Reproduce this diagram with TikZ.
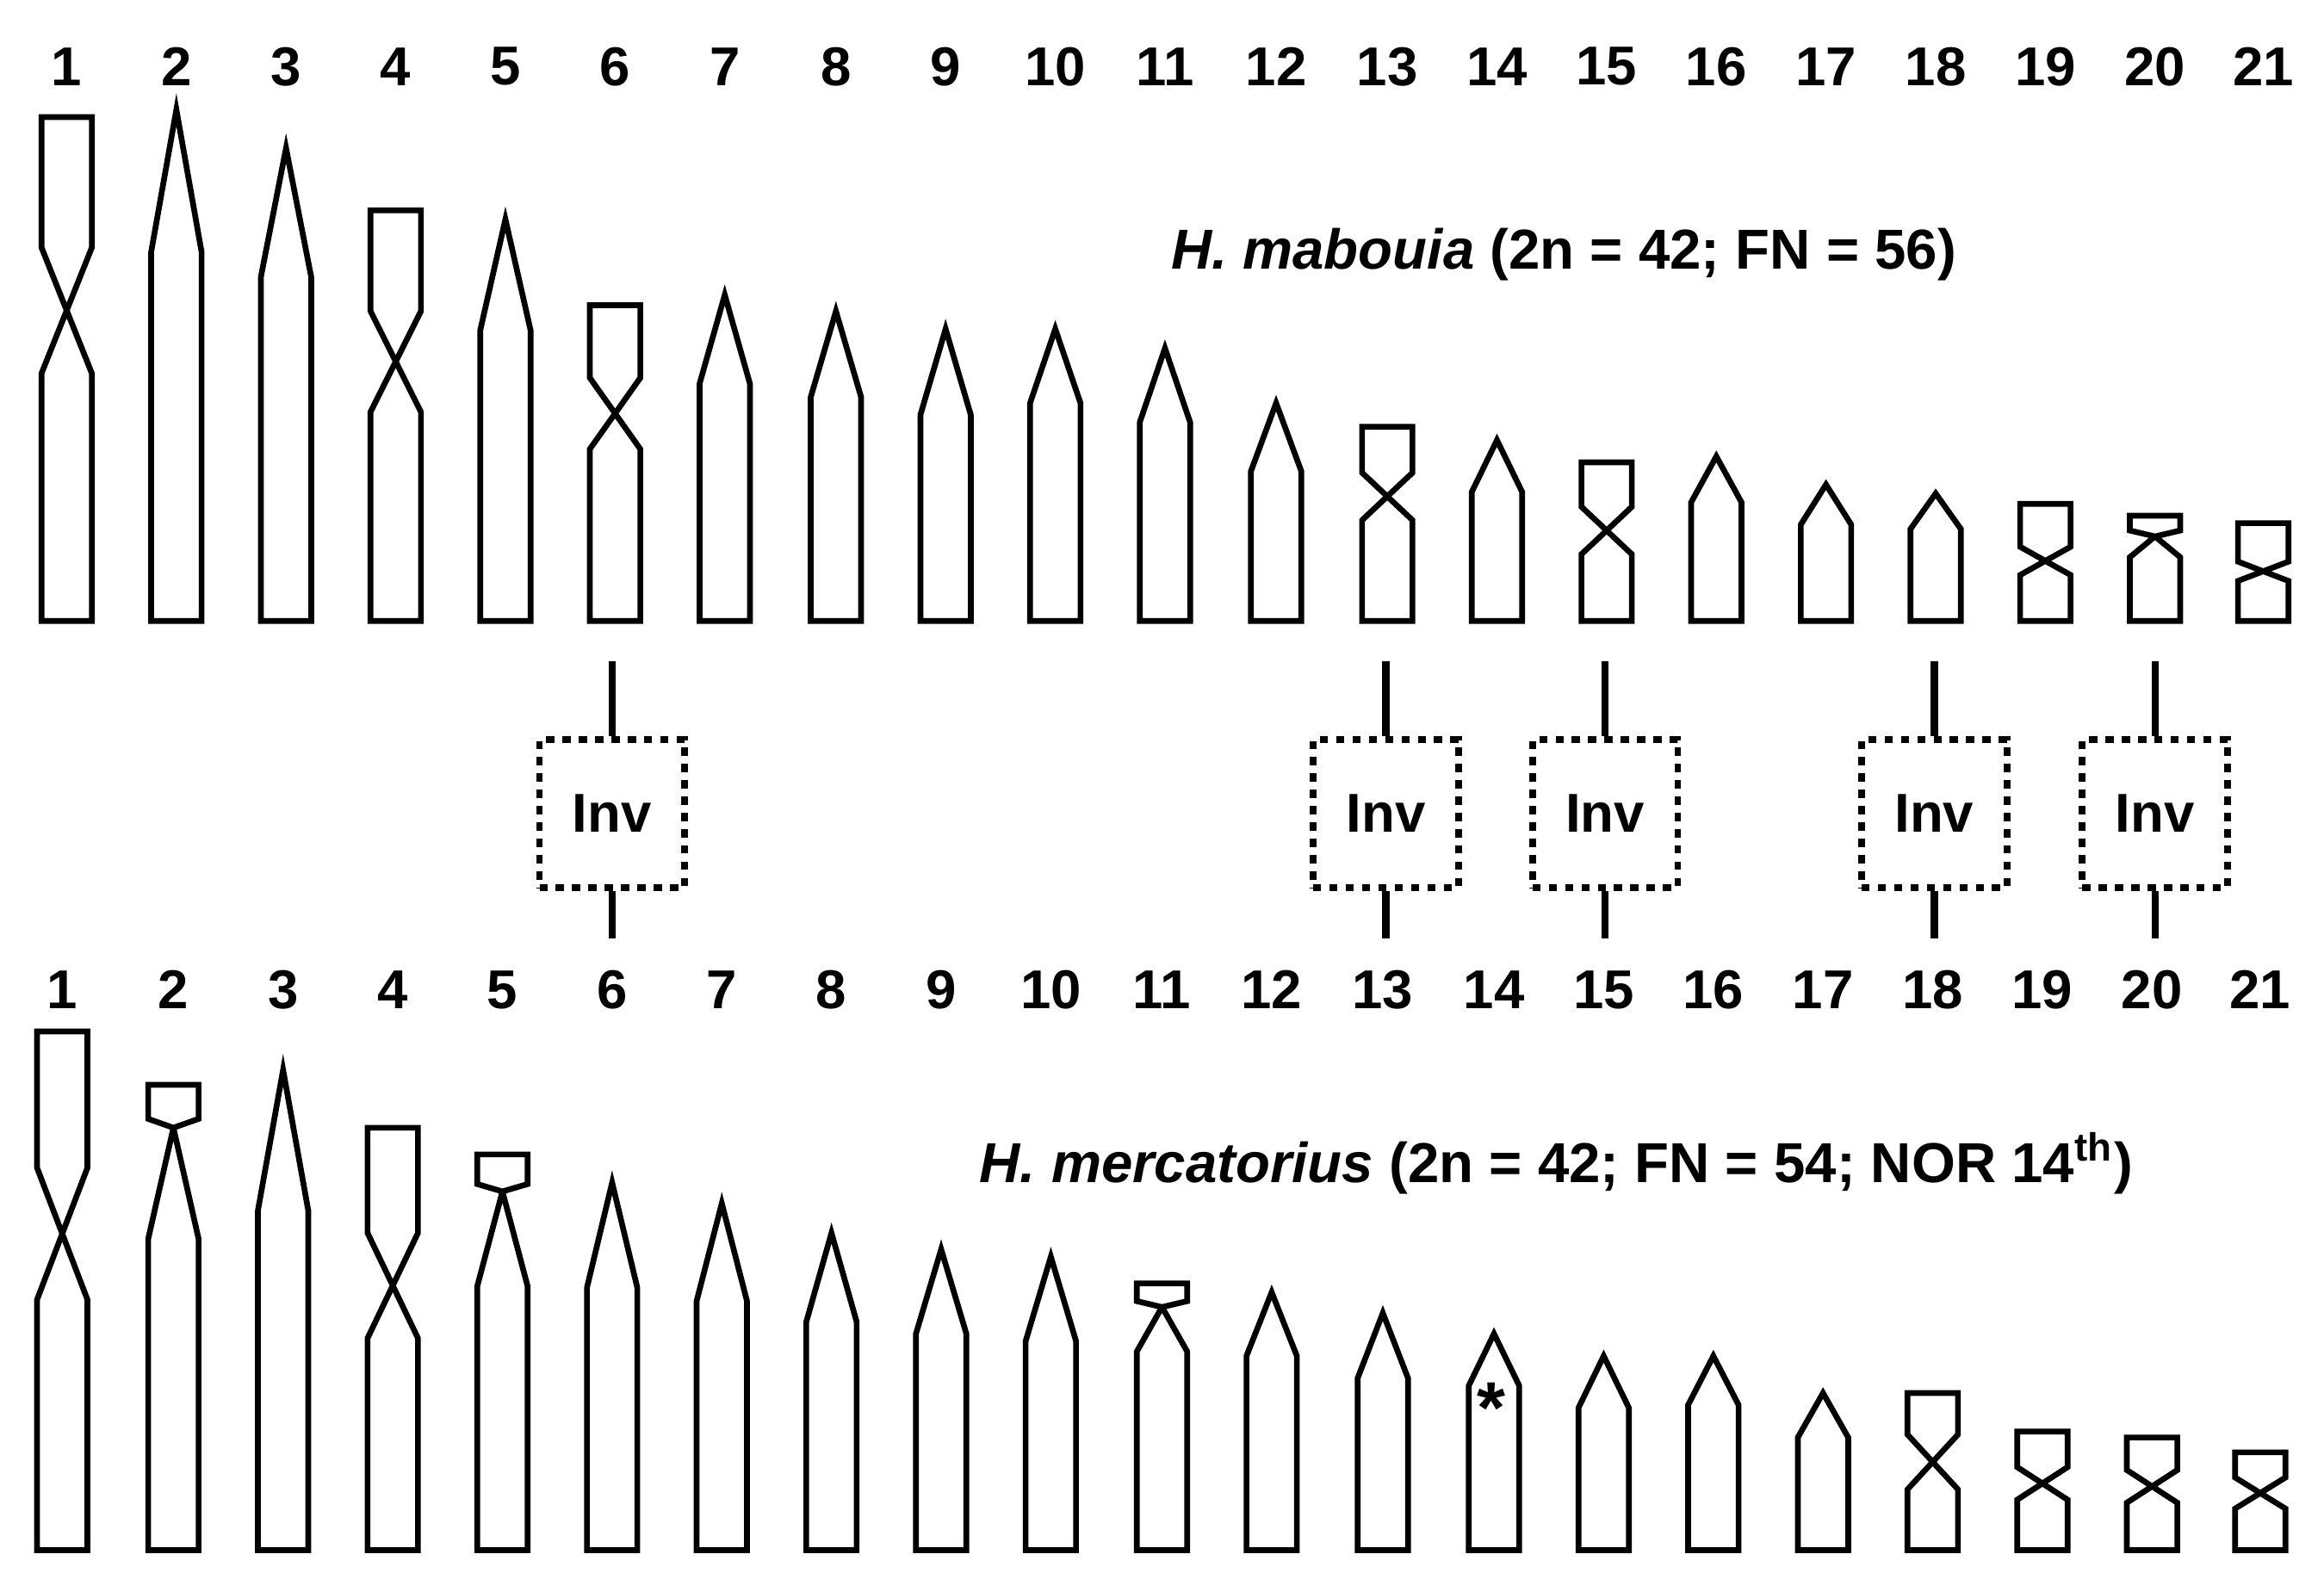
\documentclass[tikz,border=0pt]{standalone}
\usepackage{fontspec}
\setmainfont{Liberation Sans}
\newcommand\chrA[4]{\draw[chr] ({#1-17},#4)--({#1-17},#3)--(#1,#2)--({#1+17},#3)--({#1+17},#4)--cycle;}
\newcommand\chrX[6]{\draw[chr] ({#1-17},#6)--({#1-17},#5)--({#1+17},#3)--({#1+17},#2)--({#1-17},#2)--({#1-17},#3)--({#1+17},#5)--({#1+17},#6)--cycle;}
\newcommand\chrC[6]{\draw[chr] ({#1-17},#6)--({#1-17},#5)--(#1,#4)--({#1-17},#3)--({#1-17},#2)--({#1+17},#2)--({#1+17},#3)--(#1,#4)--({#1+17},#5)--({#1+17},#6)--cycle;}
\begin{document}
\begin{tikzpicture}[x=0.01cm,y=-0.01cm,
  chr/.style={line width=1.1pt,line join=miter},
  num/.style={font=\bfseries\fontsize{10.5}{12}\selectfont},
  ttl/.style={font=\bfseries\fontsize{10.8}{13}\selectfont},
  invbox/.style={draw,line width=1.3pt,dash pattern=on 0.055cm off 0.055cm,minimum width=0.98cm,minimum height=1.0cm,inner sep=0pt,font=\bfseries\fontsize{10.5}{12}\selectfont},
  link/.style={line width=1.4pt}]
\useasboundingbox (0,0) rectangle (1568,1065);
% top numbers
\foreach \n/\x in {1/45,2/119,3/193,4/267,5/341,6/415,7/489,8/564,9/638,10/712,11/786,12/861,13/936,14/1010,15/1084,16/1158,17/1232,18/1306,19/1380,20/1454,21/1527}
  \node[num] (t\n) at (\x,45) {\n};
\foreach \n/\x in {1/42,2/117,3/191,4/265,5/339,6/413,7/487,8/561,9/635,10/709,11/784,12/858,13/933,14/1008,15/1082,16/1156,17/1230,18/1304,19/1378,20/1452,21/1525}
  \node[num] (b\n) at (\x,668) {\n};
% top row
\chrX{45}{79}{167}{196}{252}{419}
\chrA{119}{74}{170}{419}
\chrA{193}{100}{187}{419}
\chrX{267}{142}{210}{231}{278}{419}
\chrA{341}{148}{223}{419}
\chrX{415}{206}{255}{266}{303}{419}
\chrA{489}{199}{259}{419}
\chrA{564}{210}{268}{419}
\chrA{638}{222}{280}{419}
\chrA{712}{222}{272}{419}
\chrA{786}{235}{285}{419}
\chrA{861}{272}{318}{419}
\chrX{936}{288}{319}{325}{351}{419}
\chrA{1010}{297}{332}{419}
\chrX{1084}{312}{342}{355}{374}{419}
\chrA{1158}{308}{339}{419}
\chrA{1232}{327}{354}{419}
\chrA{1306}{333}{357}{419}
\chrX{1380}{340}{369}{379}{388}{419}
\chrC{1454}{348}{358}{362}{376}{419}
\chrX{1527}{353}{379}{385}{392}{419}
\node[ttl] (sp1) at (1055,172) {\itshape H. mabouia\upshape\ (2n = 42; FN = 56)};
% bottom row
\chrX{42}{696}{788}{818}{877}{1046}
\chrC{117}{732}{755}{761}{836}{1046}
\chrA{191}{722}{817}{1046}
\chrX{265}{761}{832}{854}{903}{1046}
\chrC{339}{779}{799}{804}{868}{1046}
\chrA{413}{798}{869}{1046}
\chrA{487}{812}{878}{1046}
\chrA{561}{832}{892}{1046}
\chrA{635}{843}{900}{1046}
\chrA{709}{848}{905}{1046}
\chrC{784}{866}{878}{882}{912}{1046}
\chrA{858}{872}{915}{1046}
\chrA{933}{886}{930}{1046}
\chrA{1008}{900}{935}{1046}
\chrA{1082}{915}{950}{1046}
\chrA{1156}{915}{948}{1046}
\chrA{1230}{940}{970}{1046}
\chrX{1304}{940}{968}{985}{1005}{1046}
\chrX{1378}{966}{990}{1000}{1012}{1046}
\chrX{1452}{970}{992}{1002}{1014}{1046}
\chrX{1525}{980}{997}{1007}{1018}{1046}
\node[font=\bfseries\fontsize{14}{14}\selectfont] (ast) at (1006,950) {*};
\node[ttl] (sp2) at (1050,785) {\itshape H. mercatorius\upshape\ (2n = 42; FN = 54; NOR 14\textsuperscript{th})};
% inversions
\foreach \n/\x in {6/413,13/935,15/1083,18/1305,20/1454}{
  \node[invbox] (inv\n) at (\x,549) {Inv};
  \coordinate (u\n) at (\x,446);
  \coordinate (d\n) at (\x,633);
  \draw[link] (u\n) -- (inv\n.north);
  \draw[link] (inv\n.south) -- (d\n);
}
\end{tikzpicture}
\end{document}
